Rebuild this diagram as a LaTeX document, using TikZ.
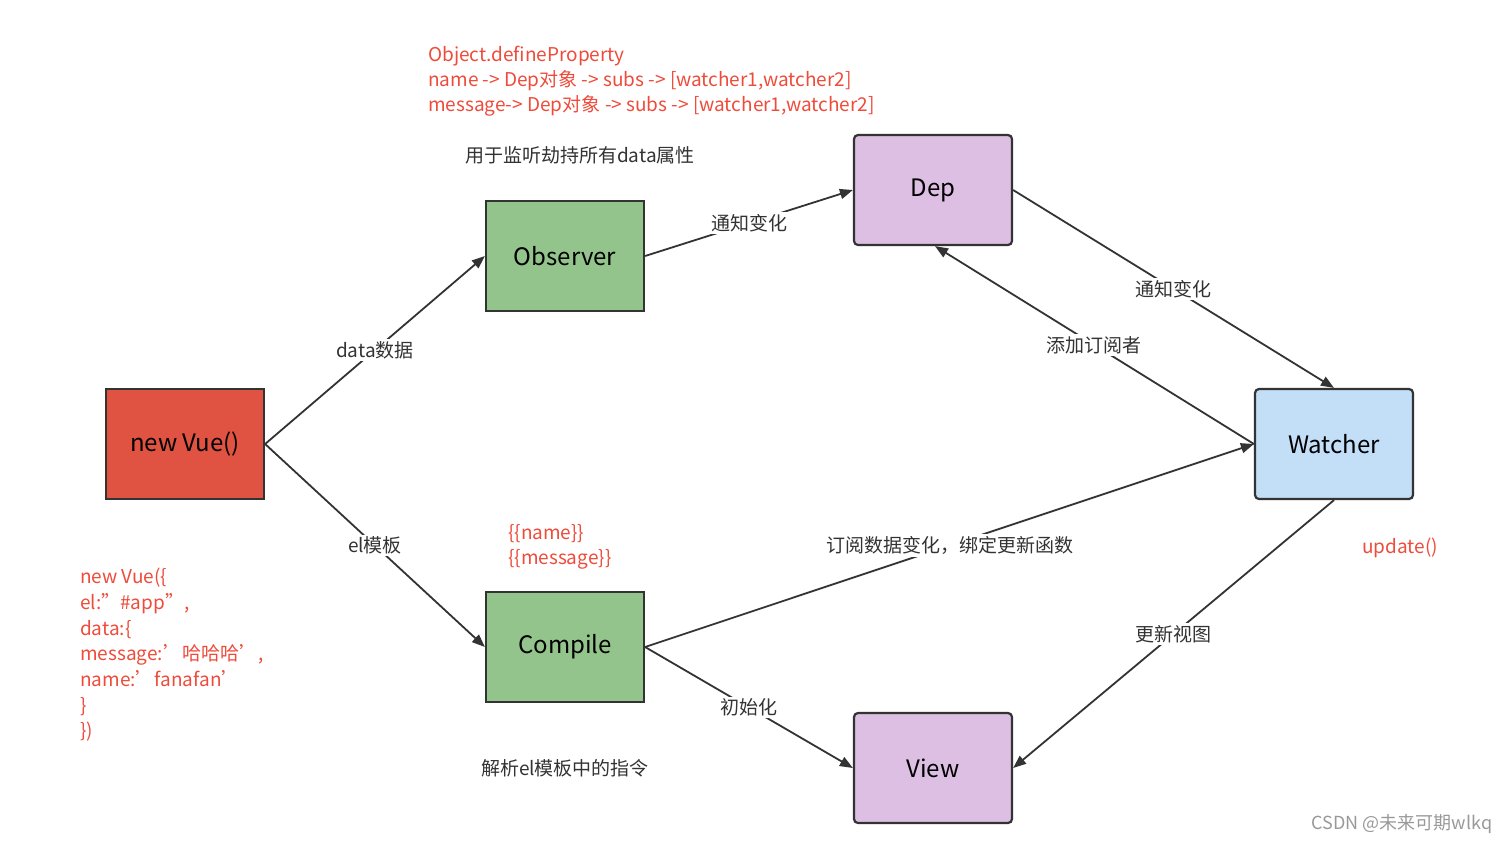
\documentclass[tikz,border=0pt]{standalone}
\usepackage{fontspec}
\setmainfont{Noto Sans CJK SC}
\usetikzlibrary{arrows.meta}
\definecolor{vred}{HTML}{E05242}
\definecolor{vgreen}{HTML}{93C48B}
\definecolor{vpurple}{HTML}{DDBFE3}
\definecolor{vblue}{HTML}{C3DEF7}
\definecolor{txtred}{HTML}{EE4B3B}
\definecolor{edge}{HTML}{333333}
\begin{document}
\begin{tikzpicture}[x=1pt,y=-1pt,
  box/.style={draw=edge,line width=2.2pt,minimum width=158pt,minimum height=110pt,font=\fontsize{24}{28}\selectfont,inner sep=0},
  rbox/.style={box,rounded corners=4pt},
  conn/.style={draw=edge,line width=1.8pt,-{Triangle[length=13pt,width=10pt]}},
  lab/.style={fill=white,inner sep=2pt,font=\fontsize{19}{22}\selectfont,text=edge},
  red/.style={text=txtred,font=\fontsize{19}{25}\selectfont,inner sep=0,align=left}]
\useasboundingbox (0,0) rectangle (1512,844);
\node[box,fill=vred] (vue) at (185,444) {new Vue()};
\node[box,fill=vgreen] (obs) at (565,256) {Observer};
\node[box,fill=vgreen] (cmp) at (565,647) {Compile};
\node[rbox,fill=vpurple] (dep) at (933,190) {Dep};
\node[rbox,fill=vpurple] (view) at (933,768) {View};
\node[rbox,fill=vblue] (w) at (1334,444) {Watcher};
\draw[conn] (vue.east) -- node[lab,pos=0.5]{data数据} (obs.west);
\draw[conn] (vue.east) -- node[lab,pos=0.5]{el模板} (cmp.west);
\draw[conn] (obs.east) -- node[lab,pos=0.5]{通知变化} (dep.west);
\draw[conn] (dep.east) -- node[lab,pos=0.5]{通知变化} (w.north);
\draw[conn] (w.west) -- node[lab,pos=0.5]{添加订阅者} ([xshift=2pt]dep.south);
\draw[conn] (cmp.east) -- node[lab,pos=0.5]{订阅数据变化，绑定更新函数} (w.west);
\draw[conn] (cmp.east) -- node[lab,pos=0.5]{初始化} (view.west);
\draw[conn] (w.south) -- node[lab,pos=0.5]{更新视图} (view.east);
\node[red,anchor=north west] (op) at (428,46) {Object.defineProperty\\name -> Dep对象 -> subs -> [watcher1,watcher2]\\message-> Dep对象 -> subs -> [watcher1,watcher2]};
\node[lab] (t1) at (580,155) {用于监听劫持所有data属性};
\node[red,anchor=north west] (tpl) at (508,524) {\{\{name\}\}\\\{\{message\}\}};
\node[red,anchor=north west,font=\fontsize{19}{25.7}\selectfont] (code) at (80,568) {new Vue(\{\\el:"\#app",\\data:\{\\message:'哈哈哈',\\name:'fanafan'\\\}\\\})};
\node[lab] (t2) at (565,768) {解析el模板中的指令};
\node[red] (up) at (1400,548) {update()};
\node[text=gray!80,font=\fontsize{18}{20}\selectfont] (wm) at (1402,824) {CSDN @未来可期wlkq};
\end{tikzpicture}
\end{document}
